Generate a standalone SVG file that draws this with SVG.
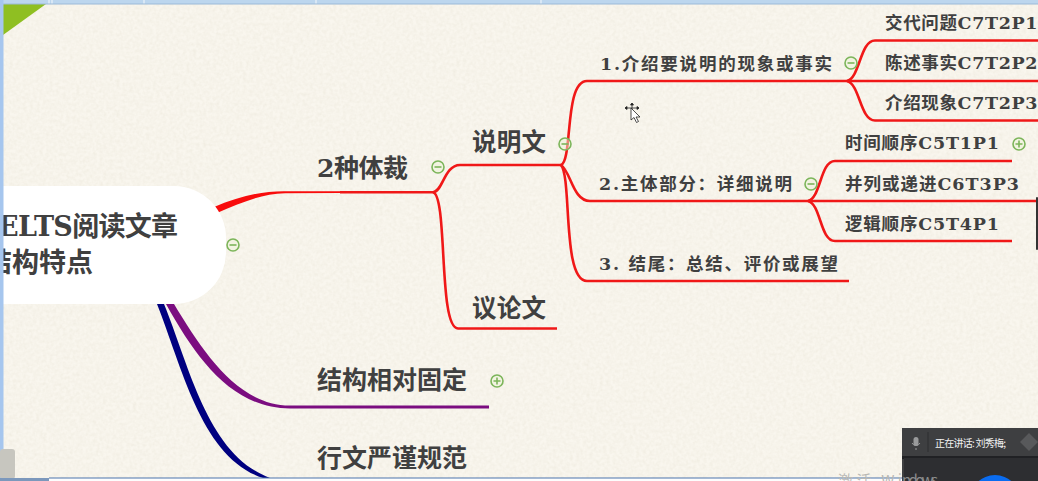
<svg xmlns="http://www.w3.org/2000/svg" width="1038" height="481" viewBox="0 0 1038 481">
<style>
text{font-family:"DejaVu Serif","Noto Sans CJK SC",serif;font-weight:700;fill:#404040}
.l1{font-size:25px}.l2{font-size:24.5px}.l3{font-size:17.5px}.l4{font-size:17.5px}.c{font-size:27px}
.ln{fill:none;stroke:#f01818;stroke-width:2.6;stroke-linecap:butt}
.ic{fill:#eef3d8;fill-opacity:.5;stroke:#7cb55a;stroke-width:1.6}
.ib{fill:none;stroke:#7cb55a;stroke-width:1.6}
</style>
<defs>
<filter id="paper" x="0" y="0" width="100%" height="100%">
<feTurbulence type="fractalNoise" baseFrequency=".3" numOctaves="2" seed="4"/>
<feColorMatrix type="matrix" values="0 0 0 0 .5  0 0 0 0 .45  0 0 0 0 .3  .14 .14 0 0 -.1"/>
</filter>
<g id="minus"><circle r="6" class="ic"/><path d="M-3.500 0H3.500" class="ib"/></g>
<g id="plus"><circle r="6" class="ic"/><path d="M-3.500 0H3.500M0-3.500V3.500" class="ib"/></g>
</defs>
<rect id="background" width="1038" height="481" fill="#f9f6ee"/>
<rect width="1038" height="481" filter="url(#paper)"/>
<polygon id="corner" points="3,4 46,4 3,35" fill="#8fbf22"/>
<g id="connectors">
<path d="M214 207C240 196 262 191 285 191.200L340 191.200V193L285 193.200C262 193.500 240 203 217 213Z" fill="#f80c0c"/>
<path class="ln" d="M340 192.200H433C443 192 444 165 460 165H561"/>
<path class="ln" d="M433 192.200C448 196 438 328 458 328.500H557"/>
<path class="ln" d="M561 165C573 160 564 81 587 81H847"/>
<path class="ln" d="M561 165C571 172 573 201 590 201H808"/>
<path class="ln" d="M561 165C572 178 562 281 587 281H849"/>
<path class="ln" d="M847 81C860 78 860 40.500 875 40.500H1038"/>
<path class="ln" d="M847 81H1038"/>
<path class="ln" d="M847 81C860 84 860 120.500 875 120.500H1038"/>
<path class="ln" d="M808 201C821 198 820 161 835 161H1012"/>
<path class="ln" d="M808 201H1038"/>
<path class="ln" d="M808 201C821 204 820 241 835 241H1012"/>
<path d="M174 304C203 352 238 405.500 290 405.500H489V408.500H290C232 408.500 196 358 166 304Z" fill="#7b0d80"/>
<path d="M164 304C190 368 208 455 270 478H263C202 458 183 370 157 304Z" fill="#000080"/>
</g>
<g id="central">
<rect x="-60" y="186" width="286" height="118" rx="52" fill="#fff"/>
<text class="c" x="-2" y="236" textLength="180" lengthAdjust="spacing">ELTS阅读文章</text>
<text class="c" x="-15" y="272" textLength="108" lengthAdjust="spacing">结构特点</text>
<use href="#minus" x="233" y="245"/>
</g>
<g id="node-2types"><text class="l1" x="317" y="177" textLength="91">2种体裁</text><use href="#minus" x="438" y="167"/></g>
<g id="node-expo"><text class="l2" x="472" y="151" textLength="74">说明文</text><use href="#minus" x="565" y="144"/></g>
<g id="node-arg"><text class="l2" x="472" y="317" textLength="74">议论文</text></g>
<g id="node-fixed"><text class="l1" x="317" y="389" textLength="150">结构相对固定</text><use href="#plus" x="497" y="381"/></g>
<g id="node-formal"><text class="l1" x="317" y="467" textLength="150">行文严谨规范</text></g>
<g id="node-p1"><text class="l3" x="600" y="70" textLength="232">1.介绍要说明的现象或事实</text><use href="#minus" x="851" y="63"/></g>
<g id="node-p2"><text class="l3" x="599" y="190" textLength="193">2.主体部分：详细说明</text><use href="#minus" x="811" y="184"/></g>
<g id="node-p3"><text class="l3" x="599" y="270" textLength="239">3. 结尾：总结、评价或展望</text></g>
<g id="node-c1"><text class="l4" x="885" y="29" textLength="152.500">交代问题C7T2P1</text></g>
<g id="node-c2"><text class="l4" x="885" y="69" textLength="152.500">陈述事实C7T2P2</text></g>
<g id="node-c3"><text class="l4" x="885" y="109" textLength="152.500">介绍现象C7T2P3</text></g>
<g id="node-d1"><text class="l4" x="845" y="149" textLength="154">时间顺序C5T1P1</text><use href="#plus" x="1019" y="144"/></g>
<g id="node-d2"><text class="l4" x="845" y="190" textLength="174">并列或递进C6T3P3</text></g>
<g id="node-d3"><text class="l4" x="845" y="230" textLength="154">逻辑顺序C5T4P1</text></g>
<g id="cursor" fill="#fff" stroke="#222" stroke-width=".8">
<path d="M632 103V117M625 108H639M632 103l-1.500 2h3zM625 108l2-1.500v3zM639 108l-2-1.500v3z" fill="#222"/>
<path d="M631 108V120L634 117.500L636.500 122.500L638.500 121.500L636 117H640Z"/>
</g>
<g id="chrome">
<rect width="1038" height="4" fill="#bcd6ee"/>
<path d="M49 0V4M52 0V4M144 0V4M316 0V4M541 0V4" stroke="#f4f8fc"/>
<rect y="3.500" width="1038" height="1" fill="#9cb9d8"/>
<rect width="3.500" height="481" fill="#a6c6ee"/>
<rect x="0" y="449" width="15" height="30" rx="3" fill="#c7c6bf"/>
<rect x="0" y="478" width="49" height="3" fill="#7c98bc"/>
<rect x="49" y="478" width="853" height="3" fill="#fdfdfd"/>
<rect x="49" y="477.500" width="853" height="1" fill="#4c74ac"/>
<rect x="1036" y="197" width="2" height="53" rx="1" fill="#333"/>
</g>
<g id="panel">
<rect x="902" y="428" width="136" height="53" fill="#3e3f41"/>
<rect x="902" y="456" width="136" height="3" fill="#202124"/>
<rect x="904" y="458" width="134" height="23" fill="#2d2e31"/>
<circle cx="995" cy="500" r="25" fill="#0a6cf0"/>
<path d="M928 432V452" stroke="#2d2e30"/>
<rect x="913.500" y="437" width="5" height="9" rx="2.500" fill="#9a9b9c"/>
<path d="M912 443a4.500 4.500 0 0 0 8 0M916 448V450" fill="none" stroke="#9a9b9c"/>
<text x="935" y="447" style="font-family:'Noto Sans CJK SC',sans-serif;font-size:10px;font-weight:400;fill:#f2f2f2" textLength="71">正在讲话: 刘秀梅;</text>
<path d="M1020 442l9-9 9 9-9 9z" fill="#58595b"/>
</g>
<text x="838" y="486" style="font-family:'Noto Sans CJK SC',sans-serif;font-size:15px;font-weight:400;fill:#b8b8b4" textLength="64">激活 Wi</text>
<text x="902" y="486" style="font-family:'Noto Sans CJK SC',sans-serif;font-size:15px;font-weight:400;fill:#8a8b8c" textLength="36">ndows</text>
</svg>
